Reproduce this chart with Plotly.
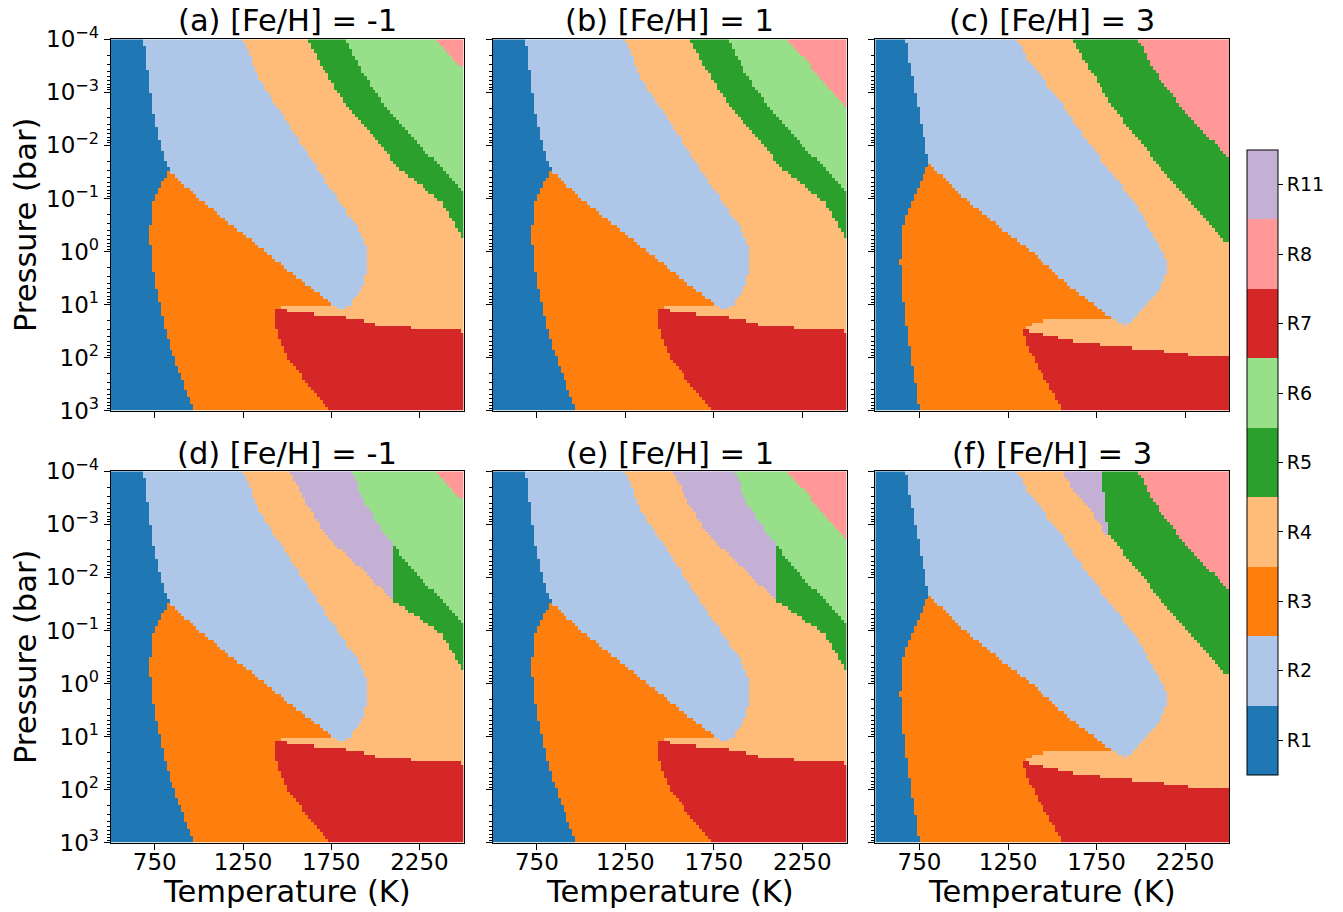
import numpy as np
import plotly.graph_objects as go

# ---------------- categories / colours ----------------
CATEGORIES = ["R1", "R2", "R3", "R4", "R5", "R6", "R7", "R8", "R11"]
COLORS = ["#1f77b4", "#aec7e8", "#ff7f0e", "#ffbb78", "#2ca02c",
          "#98df8a", "#d62728", "#ff9896", "#c5b0d5"]
PANEL_TITLES = ["(a) [Fe/H] = -1", "(b) [Fe/H] = 1", "(c) [Fe/H] = 3",
                "(d) [Fe/H] = -1", "(e) [Fe/H] = 1", "(f) [Fe/H] = 3"]
X_TICKS = [750, 1250, 1750, 2250]
Y_TICKS = [-4, -3, -2, -1, 0, 1, 2, 3]
Y_TICK_TEXT = ["10<sup>\u22124</sup>", "10<sup>\u22123</sup>", "10<sup>\u22122</sup>",
               "10<sup>\u22121</sup>", "10<sup>0</sup>", "10<sup>1</sup>",
               "10<sup>2</sup>", "10<sup>3</sup>"]

# grid of the maps (temperature in K, log10 pressure in bar)
T_RANGE = [500, 2500]
LOGP_RANGE = [-4, 3]
N_T, N_P = 120, 110

# ---------------- region boundaries ----------------
# low-metallicity set (panels a, b, d, e)
B12_A_T = [685, 704, 723, 742, 761, 780, 808, 830]
B12_A_L = [-4.0, -3.55, -3.0, -2.60, -2.29, -2.0, -1.73, -1.52]
B13_A_T = [830, 789, 742, 727, 723, 727, 751, 776, 808, 859, 912, 973]
B13_A_L = [-1.52, -1.29, -0.97, -0.66, -0.28, 0.10, 0.60, 1.00, 1.48, 2.00, 2.48, 3.0]
B23_A_T = [830, 893, 1007, 1196, 1385, 1574, 1763]
B23_A_L = [-1.52, -1.32, -0.97, -0.47, 0.03, 0.54, 1.03]
B24_A_T = [1249, 1347, 1491, 1630, 1763, 1914, 1948, 1952, 1933, 1895, 1848, 1816]
B24_A_L = [-4.0, -3.21, -2.49, -1.76, -1.10, -0.36, -0.03, 0.22, 0.60, 0.85, 1.04, 1.10]
R3LOW_A_T = [1436, 1475, 1475, 1763]
R3LOW_A_L = [1.10, 1.10, 1.03, 1.03]
RLEFT_A_T = [1436, 1432, 1441, 1479, 1536, 1612, 1687, 1734]
RLEFT_A_L = [1.10, 1.20, 1.48, 1.86, 2.17, 2.48, 2.80, 3.0]
RTOP_A_T = [1436, 1517, 1634, 1791, 1914, 1993, 2084, 2424, 2500]
RTOP_A_L = [1.10, 1.13, 1.18, 1.23, 1.30, 1.37, 1.42, 1.48, 1.51]
C45_A_T = [1612, 1706, 1829, 1980, 2140, 2377, 2500]
C45_A_L = [-4.0, -3.43, -2.80, -2.18, -1.55, -0.92, -0.20]
C56_A_T = [1835, 1914, 2046, 2207, 2377, 2500]
C56_A_L = [-4.0, -3.43, -2.80, -2.18, -1.55, -1.11]
C68_A_T = [2345, 2500]
C68_A_L = [-4.0, -3.43]
C68_B_T = [2160, 2254, 2349, 2424, 2500]
C68_B_L = [-4.0, -3.67, -3.30, -2.98, -2.67]
C411_D_T = [1517, 1602, 1715, 1914, 2094, 2377, 2500]
C411_D_L = [-4.0, -3.43, -2.80, -2.18, -1.58, -0.92, -0.20]
C116_D_T = [1867, 1933, 2056, 2094, 2207, 2377, 2500]
C116_D_L = [-4.0, -3.43, -2.80, -2.63, -2.18, -1.55, -1.11]
R5_EDGE_D_T = 2094

# high-metallicity set (panels c, f)
B12_C_T = [673, 692, 730, 767, 796, 805]
B12_C_L = [-4.0, -3.55, -2.92, -2.29, -1.79, -1.66]
B13_C_T = [805, 786, 749, 692, 664, 645, 641, 651, 664, 683, 701, 720, 749]
B13_C_L = [-1.66, -1.54, -1.22, -0.85, -0.59, -0.28, 0.22, 0.73, 1.17, 1.61, 1.98, 2.42, 3.0]
B23_C_T = [805, 918, 1012, 1200, 1389, 1577, 1765, 1841]
B23_C_L = [-1.66, -1.29, -0.97, -0.47, 0.03, 0.60, 1.10, 1.27]
B24_C_T = [1304, 1346, 1553, 1675, 1816, 1967, 2071, 2137, 2153, 2151, 2104, 2029, 1935, 1916]
B24_C_L = [-4.0, -3.69, -2.80, -2.18, -1.55, -0.92, -0.29, 0.08, 0.25, 0.41, 0.73, 1.04, 1.35, 1.40]
R3LOW_C_T = [1332, 1351, 1417, 1483, 1841]
R3LOW_C_L = [1.48, 1.42, 1.35, 1.29, 1.27]
RLEFT_C_T = [1332, 1345, 1370, 1426, 1483, 1558]
RLEFT_C_L = [1.48, 1.65, 1.86, 2.23, 2.55, 3.0]
RTOP_C_T = [1332, 1408, 1577, 1690, 1841, 2076, 2199, 2349, 2500]
RTOP_C_L = [1.48, 1.54, 1.67, 1.73, 1.79, 1.86, 1.92, 1.98, 2.00]
C45_C_T = [1610, 1713, 1826, 1967, 2118, 2288, 2438, 2500]
C45_C_L = [-4.0, -3.43, -2.80, -2.18, -1.55, -0.92, -0.29, -0.13]
C58_C_T = [1986, 2071, 2212, 2372, 2500]
C58_C_L = [-4.0, -3.43, -2.80, -2.18, -1.77]
C411_F_T = [1558, 1615, 1690, 1765, 1822]
C411_F_L = [-4.0, -3.67, -3.36, -3.04, -2.70]
C115_F_T = [1775, 1794, 1807, 1822]
C115_F_L = [-4.0, -3.55, -3.11, -2.70]

# ---------------- rasterise the regions ----------------
t_edges = np.linspace(T_RANGE[0], T_RANGE[1], N_T + 1)
l_edges = np.linspace(LOGP_RANGE[0], LOGP_RANGE[1], N_P + 1)
T_C = 0.5 * (t_edges[:-1] + t_edges[1:])
L_C = 0.5 * (l_edges[:-1] + l_edges[1:])
TT, LL = np.meshgrid(T_C, L_C)
IDX = {c: i for i, c in enumerate(CATEGORIES)}
TOP, BOT, RIGHT, LEFT = -4.6, 3.6, 2700, 300


def poly_mask(ts, ls):
    ts = np.asarray(ts, float)
    ls = np.asarray(ls, float)
    inside = np.zeros(TT.shape, bool)
    n = len(ts)
    j = n - 1
    with np.errstate(divide="ignore", invalid="ignore"):
        for i in range(n):
            xi, yi, xj, yj = ts[i], ls[i], ts[j], ls[j]
            crosses = (yi > LL) != (yj > LL)
            if yj != yi:
                xint = (xj - xi) * (LL - yi) / (yj - yi) + xi
                inside ^= crosses & (TT < xint)
            j = i
    return inside


def right_of(ct, cl):
    ts = [ct[0]] + list(ct) + [RIGHT, RIGHT]
    ls = [TOP] + list(cl) + [cl[-1], TOP]
    return poly_mask(ts, ls)


def lower_regions(z, b12t, b12l, b13t, b13l, b23t, b23l, b24t, b24l,
                  r3t, r3l, rlt, rll, rtt, rtl):
    # R2
    ts = [b12t[0]] + b12t + b23t[1:] + b24t[::-1] + [b24t[0]]
    ls = [TOP] + b12l + b23l[1:] + b24l[::-1] + [TOP]
    z[poly_mask(ts, ls)] = IDX["R2"]
    # R1
    ts = [LEFT, b12t[0]] + b12t + b13t[1:] + [b13t[-1], LEFT]
    ls = [TOP, TOP] + b12l + b13l[1:] + [BOT, BOT]
    z[poly_mask(ts, ls)] = IDX["R1"]
    # R3
    ts = b13t + [b13t[-1], rlt[-1]] + rlt[::-1] + r3t[1:] + b23t[::-1][1:]
    ls = b13l + [BOT, BOT] + rll[::-1] + r3l[1:] + b23l[::-1][1:]
    z[poly_mask(ts, ls)] = IDX["R3"]
    # R7
    ts = rlt + [rlt[-1], RIGHT, RIGHT] + rtt[::-1][:-1]
    ls = rll + [BOT, BOT, rtl[-1]] + rtl[::-1][:-1]
    z[poly_mask(ts, ls)] = IDX["R7"]
    return z


def panel_low(c68t, c68l, with_r11):
    z = np.full(TT.shape, IDX["R4"], dtype=int)
    if with_r11:
        m11 = right_of(C411_D_T, C411_D_L)
        z[m11] = IDX["R11"]
        z[m11 & (TT >= R5_EDGE_D_T)] = IDX["R5"]
        z[right_of(C116_D_T, C116_D_L)] = IDX["R6"]
    else:
        z[right_of(C45_A_T, C45_A_L)] = IDX["R5"]
        z[right_of(C56_A_T, C56_A_L)] = IDX["R6"]
    z[right_of(c68t, c68l)] = IDX["R8"]
    return lower_regions(z, B12_A_T, B12_A_L, B13_A_T, B13_A_L, B23_A_T, B23_A_L,
                         B24_A_T, B24_A_L, R3LOW_A_T, R3LOW_A_L,
                         RLEFT_A_T, RLEFT_A_L, RTOP_A_T, RTOP_A_L)


def panel_high(with_r11):
    z = np.full(TT.shape, IDX["R4"], dtype=int)
    z[right_of(C45_C_T, C45_C_L)] = IDX["R5"]
    if with_r11:
        ts = [C411_F_T[0]] + C411_F_T + C115_F_T[::-1][1:] + [C115_F_T[0]]
        ls = [TOP] + C411_F_L + C115_F_L[::-1][1:] + [TOP]
        z[poly_mask(ts, ls)] = IDX["R11"]
    z[right_of(C58_C_T, C58_C_L)] = IDX["R8"]
    return lower_regions(z, B12_C_T, B12_C_L, B13_C_T, B13_C_L, B23_C_T, B23_C_L,
                         B24_C_T, B24_C_L, R3LOW_C_T, R3LOW_C_L,
                         RLEFT_C_T, RLEFT_C_L, RTOP_C_T, RTOP_C_L)


Z_PANELS = [panel_low(C68_A_T, C68_A_L, False), panel_low(C68_B_T, C68_B_L, False),
            panel_high(False),
            panel_low(C68_A_T, C68_A_L, True), panel_low(C68_B_T, C68_B_L, True),
            panel_high(True)]

# ---------------- figure ----------------
W, H = 1343, 912
X_DOM = [[110.7, 463.5], [492.7, 846.5], [875.3, 1229.3]]
Y_DOM = [[39.3, 410.7], [471.3, 842.7]]
FONT = "DejaVu Sans"
TITLE_SIZE = 30.5
TICK_SIZE = 23
CBAR_SIZE = 19

n = len(COLORS)
colorscale = []
for i, c in enumerate(COLORS):
    colorscale.append([i / n, c])
    colorscale.append([(i + 1) / n, c])

minor_vals = [float(np.log10(k) + d) for d in range(-4, 3) for k in range(2, 10)]

fig = go.Figure()
layout = dict(width=W, height=H,
              margin=dict(l=0, r=0, t=0, b=0, pad=0, autoexpand=False),
              paper_bgcolor="white", plot_bgcolor="white",
              font=dict(family=FONT, color="black"), showlegend=False)
annotations = []
for k, z in enumerate(Z_PANELS):
    row, col = divmod(k, 3)
    sfx = "" if k == 0 else str(k + 1)
    fig.add_trace(go.Heatmap(x=T_C, y=L_C, z=z, coloraxis="coloraxis",
                             xaxis="x" + sfx, yaxis="y" + sfx, hoverinfo="skip"))
    xd = [X_DOM[col][0] / W, X_DOM[col][1] / W]
    yd = [1 - Y_DOM[row][1] / H, 1 - Y_DOM[row][0] / H]
    layout["xaxis" + sfx] = dict(
        domain=xd, anchor="y" + sfx, range=T_RANGE, tickvals=X_TICKS,
        ticks="outside", ticklen=6, tickwidth=1, tickcolor="black",
        showticklabels=(row == 1), tickfont=dict(size=TICK_SIZE, family=FONT),
        ticklabelstandoff=-7,
        showline=True, linecolor="black", linewidth=1, mirror=True,
        showgrid=False, zeroline=False, automargin=False)
    layout["yaxis" + sfx] = dict(
        domain=yd, anchor="x" + sfx, range=[LOGP_RANGE[1], LOGP_RANGE[0]],
        tickvals=Y_TICKS, ticktext=Y_TICK_TEXT,
        ticks="outside", ticklen=6, tickwidth=1, tickcolor="black",
        minor=dict(tickvals=minor_vals, ticks="outside", ticklen=3,
                   tickwidth=0.8, tickcolor="black"),
        showticklabels=(col == 0), tickfont=dict(size=TICK_SIZE, family=FONT),
        showline=True, linecolor="black", linewidth=1, mirror=True,
        showgrid=False, zeroline=False, automargin=False)
    annotations.append(dict(text=PANEL_TITLES[k], xref="paper", yref="paper",
                            x=(xd[0] + xd[1]) / 2, y=1 - (21 if row == 0 else 453) / H,
                            xanchor="center", yanchor="middle", showarrow=False,
                            font=dict(size=TITLE_SIZE, family=FONT)))
    if row == 1:
        annotations.append(dict(text="Temperature (K)", xref="paper", yref="paper",
                                x=(xd[0] + xd[1]) / 2, y=1 - 891 / H,
                                xanchor="center", yanchor="middle", showarrow=False,
                                font=dict(size=TITLE_SIZE, family=FONT)))
    if col == 0:
        annotations.append(dict(text="Pressure (bar)", xref="paper", yref="paper",
                                x=25 / W, y=(yd[0] + yd[1]) / 2, textangle=-90,
                                xanchor="center", yanchor="middle", showarrow=False,
                                font=dict(size=TITLE_SIZE, family=FONT)))

layout["annotations"] = annotations
layout["coloraxis"] = dict(
    colorscale=colorscale, cmin=-0.5, cmax=n - 0.5,
    colorbar=dict(tickvals=list(range(n)), ticktext=CATEGORIES,
                  ticks="outside", ticklen=5, tickcolor="black",
                  tickfont=dict(size=CBAR_SIZE, family=FONT),
                  thickness=31, thicknessmode="pixels",
                  len=625, lenmode="pixels",
                  x=1246.7 / W, xanchor="left", xpad=0,
                  y=1 - 462.5 / H, yanchor="middle", ypad=0,
                  outlinewidth=1, outlinecolor="black"))
fig.update_layout(**layout)
fig.write_html("out.html")
